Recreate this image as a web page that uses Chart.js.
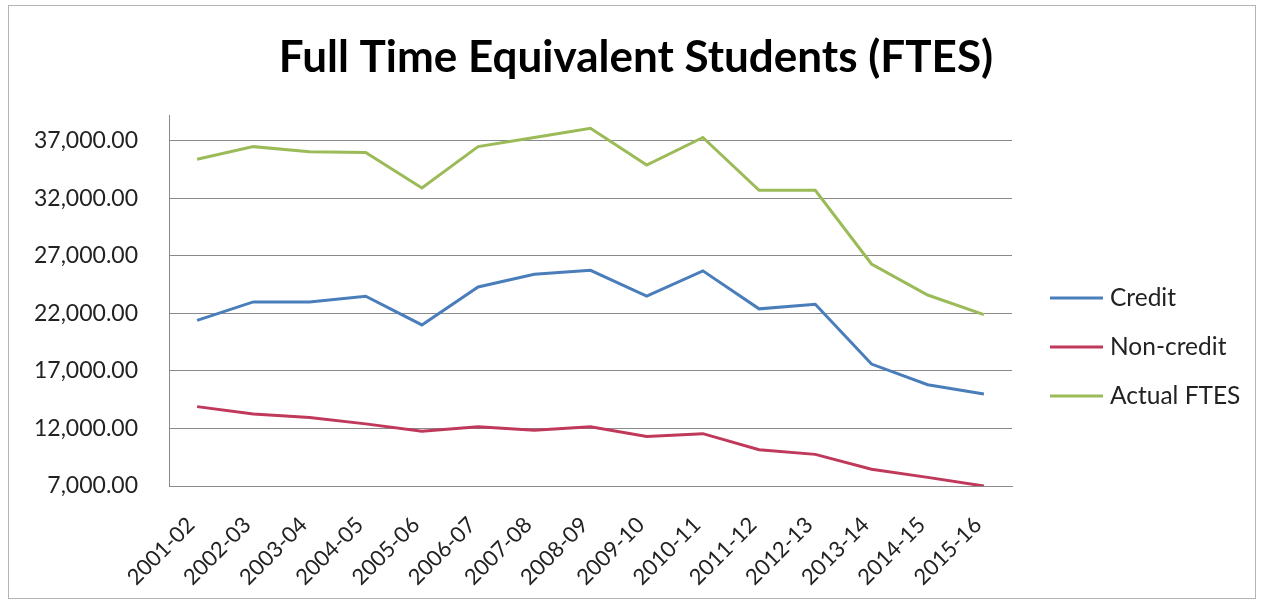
<!DOCTYPE html>
<html>
<head>
<meta charset="utf-8">
<script src="https://cdn.jsdelivr.net/npm/chart.js@4.4.1/dist/chart.umd.min.js"></script>
<style>
  html, body { margin: 0; padding: 0; background: #ffffff; width: 1262px; height: 603px; overflow: hidden; }
  #frame { position: absolute; left: 8px; top: 5px; width: 1248px; height: 594px; box-sizing: border-box; border: 1px solid #b4b4b4; }
  #c { position: absolute; left: 0; top: 0; }
</style>
</head>
<body>
<div id="frame"></div>
<canvas id="c" width="1262" height="603"></canvas>
<script>
const categories = ["2001-02","2002-03","2003-04","2004-05","2005-06","2006-07","2007-08","2008-09","2009-10","2010-11","2011-12","2012-13","2013-14","2014-15","2015-16"];
const creditValues = [21400, 23000, 23000, 23500, 21000, 24300, 25400, 25750, 23500, 25700, 22400, 22800, 17600, 15800, 15000];
const nonCreditValues = [13900, 13250, 12950, 12400, 11750, 12150, 11850, 12150, 11300, 11550, 10150, 9750, 8450, 7750, 7000];
const actualValues = [35400, 36500, 36050, 36000, 32900, 36500, 37300, 38100, 34900, 37300, 32700, 32700, 26300, 23600, 21900];
const yTickValues = [7000, 12000, 17000, 22000, 27000, 32000, 37000];
const seriesNames = ["Credit", "Non-credit", "Actual FTES"];

const colors = ["#4a7ebb", "#c0395a", "#9bbb59"];
const fam = "Lato, 'Open Sans', sans-serif";
const gridGray = "#8a8a8a";
const textColor = "#222222";

// layout (canvas pixels)
const W = 1262;
const plotLeft = 169, plotRight = 1012;
const padLeft = 10;
const legendFont = 24.5;
const legendLineX0 = 1050, legendLineX1 = 1103, legendTextX = 1110;
const legendY0 = 298, legendStep = 49;

const fmt = new Intl.NumberFormat('en-US', {minimumFractionDigits: 2, maximumFractionDigits: 2});

function ds(label, data, color) {
  return {
    label, data,
    borderColor: color, backgroundColor: color,
    borderWidth: 3, pointRadius: 0, pointHoverRadius: 0,
    tension: 0, fill: false, yAxisID: 'y'
  };
}

// legend drawn from the datasets (label + colour) at the right of the plot
const sideLegend = {
  id: 'sideLegend',
  afterDraw(chart) {
    const ctx = chart.ctx;
    ctx.save();
    chart.data.datasets.forEach((d, i) => {
      const y = legendY0 + i * legendStep;
      ctx.strokeStyle = d.borderColor;
      ctx.lineWidth = d.borderWidth;
      ctx.lineCap = 'butt';
      ctx.beginPath();
      ctx.moveTo(legendLineX0, y);
      ctx.lineTo(legendLineX1, y);
      ctx.stroke();
      ctx.fillStyle = textColor;
      ctx.font = `${legendFont}px ${fam}`;
      ctx.textAlign = 'left';
      ctx.textBaseline = 'middle';
      ctx.fillText(d.label, legendTextX, y);
    });
    ctx.restore();
  }
};

new Chart(document.getElementById('c'), {
  type: 'line',
  data: {
    labels: categories,
    datasets: [
      ds(seriesNames[0], creditValues, colors[0]),
      ds(seriesNames[1], nonCreditValues, colors[1]),
      ds(seriesNames[2], actualValues, colors[2])
    ]
  },
  plugins: [sideLegend],
  options: {
    responsive: false,
    animation: false,
    devicePixelRatio: 1,
    layout: { padding: { left: padLeft, right: 0, top: 0, bottom: 0 } },
    plugins: {
      tooltip: { enabled: false },
      legend: { display: false },
      title: {
        display: true,
        text: 'Full Time Equivalent Students (FTES)',
        color: '#000000',
        font: { family: fam, size: 44, weight: 'bold', lineHeight: 1.2 },
        padding: { top: 31, bottom: 31.2 }
      }
    },
    scales: {
      x: {
        offset: true,
        grid: { display: false, drawTicks: false },
        border: { display: true, color: gridGray, width: 1 },
        ticks: {
          autoSkip: false, minRotation: 45, maxRotation: 45,
          color: textColor, font: { family: fam, size: 22 },
          padding: 26, labelOffset: -6
        },
        afterFit(s) { s.height = 117; }
      },
      y: {
        position: 'left',
        min: 7000, max: 39250,
        afterBuildTicks(s) { s.ticks = yTickValues.map(v => ({ value: v })); },
        grid: { color: gridGray, lineWidth: 1, drawTicks: false },
        border: { display: true, color: gridGray, width: 1 },
        ticks: {
          color: textColor, font: { family: fam, size: 23 }, padding: 31,
          callback: (v) => fmt.format(v)
        },
        afterFit(s) { s.width = plotLeft - padLeft; }
      },
      legendSpace: {
        type: 'linear', position: 'right', display: true,
        grid: { display: false, drawTicks: false },
        border: { display: false },
        ticks: { display: false },
        afterFit(s) { s.width = W - plotRight; }
      }
    }
  }
});
</script>
</body>
</html>
